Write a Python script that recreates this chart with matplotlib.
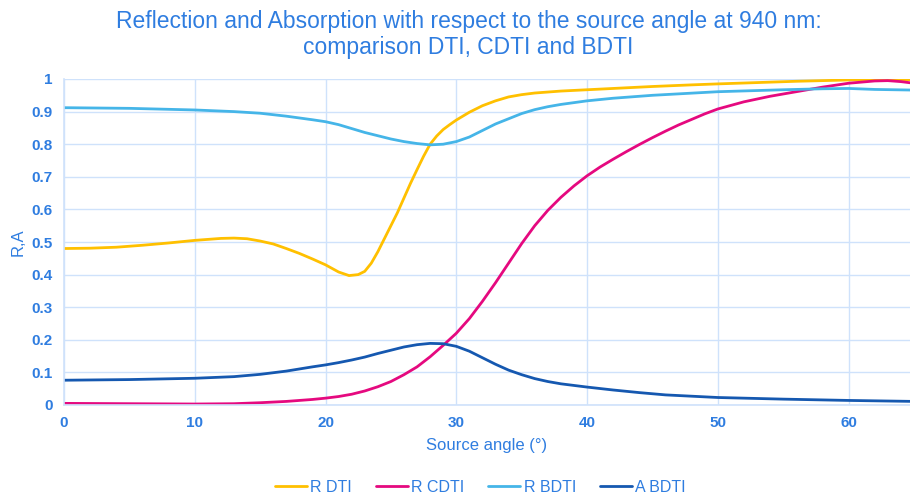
import matplotlib
matplotlib.use("Agg")
import matplotlib.pyplot as plt

# angles (deg) and values
r_dti_x = [0, 2, 4, 6, 8, 10, 12, 13, 14, 15, 16, 17, 18, 19, 20, 21, 21.8, 22.5, 23, 23.5, 24, 24.5, 25,
           25.5, 26, 26.5, 27, 27.5, 28, 28.5, 29, 29.5, 30, 31, 32, 33, 34, 35, 36, 38, 40, 42, 45, 48, 50,
           53, 56, 60, 63, 65]
r_dti_y = [0.48, 0.481, 0.484, 0.49, 0.497, 0.505, 0.511, 0.512, 0.51, 0.503, 0.494, 0.48, 0.465, 0.448,
           0.43, 0.408, 0.397, 0.40, 0.41, 0.435, 0.47, 0.51, 0.55, 0.59, 0.635, 0.68, 0.722, 0.763, 0.80,
           0.825, 0.845, 0.86, 0.874, 0.898, 0.918, 0.933, 0.945, 0.952, 0.957, 0.963, 0.967, 0.971, 0.977,
           0.982, 0.985, 0.989, 0.993, 0.997, 0.998, 0.998]

r_cdti_x = [0, 5, 10, 13, 15, 17, 19, 20, 21, 22, 23, 24, 25, 26, 27, 28, 29, 30, 31, 32, 33, 34, 35, 36,
            37, 38, 39, 40, 41, 42, 43, 44, 45, 46, 47, 48, 49, 50, 52, 54, 56, 58, 60, 62, 63, 64, 65]
r_cdti_y = [0.005, 0.004, 0.003, 0.004, 0.007, 0.011, 0.017, 0.021, 0.026, 0.033, 0.043, 0.056, 0.072,
            0.093, 0.117, 0.148, 0.183, 0.22, 0.265, 0.318, 0.375, 0.435, 0.495, 0.55, 0.597, 0.637, 0.672,
            0.703, 0.73, 0.754, 0.777, 0.799, 0.82, 0.84, 0.859, 0.876, 0.893, 0.908, 0.93, 0.947, 0.961,
            0.975, 0.987, 0.994, 0.995, 0.992, 0.987]

r_bdti_x = [0, 5, 10, 13, 15, 17, 19, 20, 21, 22, 23, 24, 25, 26, 27, 28, 29, 30, 31, 32, 33, 34, 35, 36,
            37, 38, 40, 42, 45, 50, 55, 58, 60, 62, 65]
r_bdti_y = [0.912, 0.91, 0.905, 0.90, 0.895, 0.886, 0.875, 0.869, 0.86, 0.848, 0.836, 0.826, 0.816, 0.808,
            0.802, 0.798, 0.80, 0.808, 0.822, 0.842, 0.862, 0.878, 0.894, 0.906, 0.915, 0.922, 0.933, 0.941,
            0.95, 0.961, 0.967, 0.97, 0.971, 0.968, 0.966]

a_bdti_x = [0, 5, 10, 13, 15, 17, 19, 20, 21, 22, 23, 24, 25, 26, 27, 28, 29, 30, 31, 32, 33, 34, 35, 36,
            37, 38, 40, 42, 44, 46, 48, 50, 55, 60, 65]
a_bdti_y = [0.076, 0.078, 0.082, 0.087, 0.094, 0.104, 0.117, 0.123, 0.13, 0.138, 0.147, 0.158, 0.168,
            0.178, 0.185, 0.189, 0.188, 0.18, 0.165, 0.145, 0.125, 0.107, 0.093, 0.081, 0.072, 0.065, 0.055,
            0.046, 0.038, 0.031, 0.027, 0.023, 0.018, 0.014, 0.011]

y_ticks = [0, 0.1, 0.2, 0.3, 0.4, 0.5, 0.6, 0.7, 0.8, 0.9, 1]
y_labels = ["0", "0.1", "0.2", "0.3", "0.4", "0.5", "0.6", "0.7", "0.8", "0.9", "1"]
x_ticks = [0, 10, 20, 30, 40, 50, 60]

text_blue = "#2f7de0"
grid_blue = "#cfe2fb"

plt.rcParams["font.family"] = ["Liberation Sans", "DejaVu Sans"]

fig = plt.figure(figsize=(9.1, 4.97), dpi=100)
ax = fig.add_axes([64 / 910, 1 - 405 / 497, (910 - 64) / 910, (405 - 79) / 497])

line_kw = dict(lw=2, solid_joinstyle="round", solid_capstyle="round")
ax.plot(r_dti_x, r_dti_y, color="#ffc000", label="R DTI", **line_kw)
ax.plot(r_cdti_x, r_cdti_y, color="#e5097f", label="R CDTI", **line_kw)
ax.plot(r_bdti_x, r_bdti_y, color="#45b5e8", label="R BDTI", **line_kw)
ax.plot(a_bdti_x, a_bdti_y, color="#1558b0", label="A BDTI", **line_kw)

ax.set_xlim(0, 64.7)
ax.set_ylim(0, 1)
ax.set_yticks(y_ticks)
ax.set_yticklabels(y_labels)
ax.set_xticks(x_ticks)
ax.grid(True, color=grid_blue, lw=1)
ax.set_axisbelow(True)
for side in ["top", "right"]:
    ax.spines[side].set_visible(False)
for side in ["left", "bottom"]:
    ax.spines[side].set_color(grid_blue)
    ax.spines[side].set_linewidth(1.2)
ax.tick_params(length=0, colors=text_blue, labelsize=11, pad=8)
for lbl in ax.get_xticklabels() + ax.get_yticklabels():
    lbl.set_fontweight("bold")

ax.set_xlabel("Source angle (°)", color=text_blue, fontsize=12, labelpad=6)
ax.set_ylabel("R,A", color=text_blue, fontsize=12, labelpad=4)

fig.suptitle("Reflection and Absorption with respect to the source angle at 940 nm:\ncomparison DTI, CDTI and BDTI",
             color=text_blue, fontsize=16.5, y=0.979, x=0.515, linespacing=1.15)

leg = fig.legend(loc="lower center", ncol=4, bbox_to_anchor=(0.528, -0.025), frameon=False,
                 handlelength=2.0, handletextpad=0.2, columnspacing=1.5, fontsize=11.5)
for t in leg.get_texts():
    t.set_color(text_blue)

fig.savefig("out.png", dpi=100)
